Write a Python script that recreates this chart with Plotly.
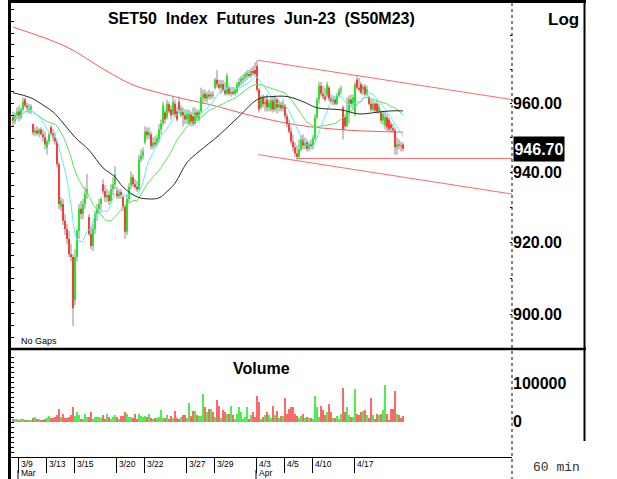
import math
import pandas as pd
import plotly.graph_objects as go

W, H = 617, 479

# ---------------- data (60-min bars, 3/8 .. 4/20) ----------------
opens = [955.8, 954.6, 956.4, 957.5, 955.8, 958.1, 961.0, 959.3, 958.1, 958.1,
         953.8, 951.4, 952.0, 951.1, 952.3, 950.8, 950.0,
         947.0, 948.8, 952.9, 951.1, 950.0, 948.8, 942.2,
         930.0, 930.9, 926.1, 923.8, 921.0, 916.7, 915.9,
         904.0, 915.9, 923.2, 929.5, 928.0, 930.9, 933.7,
         927.2, 922.4, 919.0, 923.8, 928.0, 929.5, 930.9,
         936.5, 934.5, 932.8, 933.4, 931.7, 935.1, 936.5,
         934.5, 933.1, 934.3, 932.8, 930.0, 923.0, 932.3,
         936.2, 938.5, 936.5, 935.7, 935.1, 943.6, 944.7,
         948.5, 951.7, 950.6, 950.8, 947.4, 948.5, 947.9,
         949.4, 952.3, 954.0, 957.2, 955.8, 959.6, 958.1,
         956.7, 959.8, 957.5, 960.4, 956.4, 957.5, 956.4,
         955.2, 954.0, 956.7, 956.1, 954.0, 957.2, 955.2,
         957.5, 961.6, 962.7, 961.3, 962.5, 961.9, 962.5,
         964.5, 966.8, 965.4, 964.5, 965.6, 963.9, 962.7,
         964.5, 962.7, 963.3, 962.7, 963.3, 965.1, 966.2,
         966.8, 967.4, 968.0, 968.5, 968.0, 969.4, 969.7,
         970.9, 963.9, 958.7, 961.6, 959.6, 961.0, 958.7,
         958.1, 960.7, 958.1, 961.0, 958.7, 959.8, 958.4,
         959.3, 956.1, 953.8, 951.7, 948.8, 947.1, 945.3,
         944.4, 946.5, 949.4, 947.6, 948.5, 946.7, 947.9,
         947.4, 949.7, 955.8, 961.0, 965.1, 962.7, 961.9,
         962.2, 964.5, 961.3, 960.4, 961.0, 959.8, 962.2,
         963.6, 958.7, 955.8, 953.2, 957.5, 961.0, 959.8,
         956.7, 966.8, 964.5, 965.6, 963.9, 964.8, 962.5,
         961.6, 959.8, 958.1, 959.8, 959.8, 957.5, 957.2,
         954.9, 953.5, 955.8, 955.2, 953.8, 952.6, 952.0,
         947.1, 947.9, 947.6, 947.9]

highs = [957.5, 957.2, 958.7, 959.3, 958.7, 961.6, 961.6, 960.1, 959.8, 959.6,
         954.0, 952.9, 953.2, 952.6, 952.9, 952.3, 951.7,
         949.4, 951.4, 953.5, 952.3, 951.4, 949.4, 942.8,
         932.8, 932.3, 928.0, 925.2, 923.2, 919.5, 916.7,
         918.1, 923.8, 930.9, 931.7, 932.3, 935.7, 939.4,
         928.0, 924.4, 925.2, 928.9, 930.9, 932.3, 932.8,
         937.9, 936.2, 935.1, 934.5, 936.5, 938.5, 941.6,
         935.7, 935.1, 935.1, 933.4, 930.6, 933.7, 936.8,
         940.2, 939.4, 937.9, 937.4, 945.0, 946.5, 947.1,
         953.2, 952.9, 952.9, 951.7, 950.0, 950.3, 950.8,
         953.8, 955.2, 960.4, 958.1, 961.0, 960.4, 959.3,
         961.9, 961.0, 958.7, 961.9, 959.3, 958.7, 958.1,
         958.1, 958.1, 957.5, 958.7, 958.7, 958.1, 958.1,
         964.5, 963.9, 963.9, 963.3, 963.9, 963.3, 963.6,
         967.4, 969.7, 966.8, 966.8, 966.8, 966.2, 968.8,
         965.1, 964.5, 964.5, 964.5, 966.2, 967.4, 968.0,
         968.5, 969.1, 969.7, 969.7, 970.3, 970.9, 972.0,
         972.6, 964.5, 962.2, 962.5, 961.9, 962.5, 961.0,
         961.6, 961.9, 962.2, 961.6, 961.0, 960.4, 961.0,
         959.8, 956.9, 955.2, 952.9, 950.8, 948.5, 947.6,
         949.4, 950.6, 950.8, 950.0, 949.4, 948.8, 949.4,
         950.6, 956.7, 961.6, 966.2, 966.2, 965.1, 964.5,
         966.2, 965.1, 962.5, 962.2, 961.9, 963.0, 964.5,
         965.1, 959.3, 956.7, 961.6, 962.2, 962.5, 962.5,
         966.2, 968.0, 967.4, 966.2, 965.4, 965.6, 965.1,
         962.2, 961.0, 961.0, 960.4, 960.7, 959.8, 958.1,
         957.5, 957.5, 956.7, 955.8, 954.6, 954.0, 952.9,
         950.0, 949.4, 948.8, 948.5]

lows = [953.2, 953.8, 955.2, 954.6, 955.2, 957.5, 958.7, 957.2, 956.9, 956.7,
        950.6, 950.3, 950.6, 950.0, 950.6, 948.8, 946.5,
        945.0, 947.9, 950.6, 948.8, 947.9, 941.3, 929.5,
        928.9, 924.9, 922.1, 919.5, 915.9, 914.7, 896.9,
        902.6, 914.7, 921.0, 926.6, 926.6, 929.5, 932.3,
        921.9, 918.1, 917.6, 922.4, 926.1, 928.0, 928.9,
        933.7, 931.4, 931.4, 930.6, 931.2, 933.4, 935.1,
        932.3, 932.3, 932.3, 928.9, 921.0, 922.1, 931.2,
        935.1, 935.7, 935.1, 934.3, 934.5, 942.8, 943.6,
        947.9, 949.4, 949.4, 946.5, 946.5, 947.1, 947.4,
        948.5, 950.8, 953.2, 954.0, 955.2, 956.9, 955.2,
        956.1, 955.8, 954.6, 956.7, 955.8, 953.2, 953.8,
        953.8, 953.5, 953.2, 953.2, 953.5, 954.6, 954.6,
        956.9, 959.8, 960.4, 960.1, 961.0, 961.0, 961.3,
        963.9, 964.5, 963.9, 962.7, 963.3, 962.2, 962.2,
        962.2, 961.9, 962.2, 962.2, 962.7, 964.5, 965.1,
        965.6, 966.2, 966.8, 967.4, 967.4, 968.0, 968.0,
        963.3, 957.2, 958.1, 958.7, 957.5, 957.5, 957.5,
        957.5, 957.2, 957.5, 956.9, 957.5, 957.5, 957.5,
        955.2, 952.9, 951.1, 947.9, 945.9, 944.4, 943.6,
        943.9, 945.9, 946.5, 946.5, 945.9, 945.9, 946.5,
        946.5, 949.1, 955.2, 959.8, 961.9, 961.0, 960.4,
        961.6, 960.4, 959.8, 959.3, 959.3, 959.3, 961.6,
        962.5, 949.4, 952.3, 952.9, 954.0, 958.7, 958.1,
        956.1, 963.9, 963.3, 962.5, 962.2, 962.2, 961.9,
        959.3, 957.5, 957.5, 957.2, 956.9, 956.9, 954.0,
        953.5, 952.3, 951.7, 951.7, 951.4, 951.4, 945.0,
        945.0, 946.5, 945.9, 945.9]

closes = [954.6, 956.4, 957.5, 955.8, 958.1, 960.4, 959.3, 958.7, 958.4, 959.0,
          951.4, 952.0, 951.1, 952.3, 950.8, 950.0, 947.9,
          948.8, 950.8, 951.1, 950.0, 948.8, 942.2, 930.9,
          931.7, 926.1, 923.8, 921.0, 916.7, 915.9, 901.7,
          915.9, 923.2, 929.5, 928.0, 930.9, 933.7, 935.1,
          922.4, 919.0, 923.8, 928.0, 929.5, 930.9, 932.3,
          934.5, 932.8, 933.4, 931.7, 935.1, 936.5, 939.4,
          933.1, 934.3, 933.4, 930.0, 923.0, 932.3, 935.7,
          938.5, 936.5, 935.7, 935.1, 943.6, 944.7, 945.9,
          951.7, 950.6, 951.4, 947.4, 948.5, 947.9, 949.7,
          952.3, 954.0, 959.3, 955.2, 959.8, 957.5, 956.4,
          960.4, 956.7, 955.2, 958.1, 958.4, 956.4, 955.2,
          956.9, 956.7, 954.6, 954.0, 957.2, 955.8, 957.5,
          961.6, 962.7, 961.3, 962.5, 961.9, 962.5, 962.2,
          966.8, 965.4, 964.5, 965.6, 963.9, 962.7, 968.0,
          962.7, 963.3, 962.7, 963.9, 965.4, 966.2, 967.1,
          967.4, 968.3, 968.8, 968.0, 969.4, 968.8, 968.5,
          963.9, 958.1, 961.6, 959.6, 960.4, 958.7, 960.1,
          960.7, 958.1, 961.0, 958.7, 959.8, 958.4, 959.8,
          956.1, 953.8, 951.7, 948.8, 947.1, 945.3, 944.4,
          946.5, 949.4, 947.6, 948.5, 946.7, 947.9, 947.4,
          949.7, 955.8, 961.0, 965.1, 962.7, 961.9, 961.0,
          965.4, 961.3, 960.4, 961.0, 959.8, 962.2, 963.6,
          964.2, 952.3, 953.2, 957.5, 961.0, 959.8, 961.6,
          965.4, 964.5, 963.9, 963.0, 964.8, 962.5, 963.9,
          959.8, 958.1, 959.8, 957.8, 957.5, 959.0, 954.9,
          956.7, 955.8, 952.9, 952.3, 952.6, 952.0, 947.1,
          947.9, 947.6, 947.4, 946.7]

volumes = [7000, 8000, 8000, 5000, 7000, 7000, 4500, 4500, 4500, 5000,
           9000, 11000, 6000, 6000, 3000, 5000, 7000,
           10000, 14000, 9000, 10000, 11000, 17000, 34000,
           11000, 20000, 10000, 10000, 13000, 17000, 38000,
           15000, 26000, 17000, 8000, 7000, 21000, 12000,
           13000, 24000, 8000, 11000, 12000, 12000, 10000,
           17000, 7000, 19000, 12000, 7000, 13000, 17000,
           12000, 8000, 14000, 15000, 26000, 19000, 13000,
           12000, 9000, 19000, 6000, 21000, 15000, 13000,
           14000, 11000, 19000, 9000, 6000, 10000, 9000,
           12000, 30000, 10000, 9000, 17000, 8000, 14000,
           10000, 27000, 9000, 7000, 11000, 17000, 17000,
           10000, 48000, 15000, 27000, 27000, 17000, 15000,
           15000, 71000, 38000, 24000, 34000, 34000, 24000,
           12000, 57000, 41000, 10000, 30000, 24000, 21000,
           19000, 41000, 17000, 8000, 20000, 38000, 24000,
           8000, 13000, 38000, 8000, 17000, 24000, 13000,
           66000, 50000, 8000, 13000, 17000, 25000, 17000,
           10000, 41000, 17000, 28000, 9000, 15000, 14000,
           60000, 21000, 34000, 38000, 38000, 21000, 15000,
           9000, 14000, 19000, 10000, 13000, 9000, 10000,
           7000, 67000, 38000, 12000, 41000, 30000, 17000,
           24000, 47000, 24000, 10000, 10000, 15000, 7000,
           21000, 86000, 25000, 38000, 17000, 13000, 13000,
           84000, 19000, 17000, 24000, 28000, 30000, 17000,
           10000, 62000, 17000, 8000, 19000, 17000, 19000,
           30000, 95000, 19000, 4000, 33000, 32000, 79000,
           19000, 17000, 10000, 14000]

# date axis: first bar of each labelled trading day
day_labels = ["3/9", "3/13", "3/15", "3/20", "3/22", "3/27", "3/29",
              "4/3", "4/5", "4/10", "4/17"]
day_start_bar = [3, 17, 31, 52, 66, 87, 101, 122, 136, 150, 171]
month_labels = ["Mar", "Apr"]
month_start_bar = [3, 122]

# long moving averages
black_ma_bar = [0, 9, 15, 20, 25, 31, 38, 45, 51, 55, 62, 68, 73, 77, 81, 87, 93,
                103, 113, 123, 130, 137, 145, 152, 164, 173, 182, 189, 195]
black_ma_val = [963.0, 961.5, 959.4, 957.4, 954.2, 950.0, 946.3, 941.2, 938.6,
                935.7, 932.9, 932.3, 932.6, 934.4, 936.8, 942.7, 945.9, 950.6,
                956.1, 961.3, 961.9, 961.9, 960.4, 958.6, 958.0, 956.8, 957.3,
                957.7, 957.7]
red_ma_bar = [0, 27, 46, 60, 71, 87, 98, 118, 142, 167, 195]
red_ma_val = [982.5, 976.5, 969.7, 965.3, 963.3, 961.0, 959.6, 956.5, 953.6,
              952.1, 951.5]

# drawn trend lines (bar, price)
upper_line_bar = [122.5, 249.5]
upper_line_val = [972.6, 961.0]
lower_line_bar = [122.5, 249.5]
lower_line_val = [945.0, 933.7]
support_bar = [141.5, 249.5]
support_val = [943.9, 943.9]

price_tickvals = [890, 900, 910, 920, 930, 940, 950, 960, 970, 980]
price_ticktext = ["", "900.00", "", "920.00", "", "940.00", "", "960.00", "", ""]
vol_tickvals = [0, 100000]
vol_ticktext = ["0", "100000"]

# ---------------- styling ----------------
SANS = "Liberation Sans, Arial, sans-serif"
C_UP, C_DN = "#22ea22", "#ff3a3a"
V_UP, V_DN = "#4cf04c", "#ff6868"
WICK = "#8c8c8c"


def px(xp):
    return xp / W


def py(yp):
    return 1 - yp / H


bars = list(range(len(closes)))
s = pd.Series(closes)
ma_fast = s.rolling(10, min_periods=1).mean()
ma_mid = s.rolling(25, min_periods=1).mean()

# wick segments and body segments (bodies drawn above wicks)
wx, wy = [], []
ux, uy, dx, dy = [], [], [], []
for i in bars:
    wx += [i, i, None]
    wy += [lows[i], highs[i], None]
    if closes[i] >= opens[i]:
        ux += [i, i, None]
        uy += [opens[i], closes[i], None]
    else:
        dx += [i, i, None]
        dy += [opens[i], closes[i], None]

vol_colors = [V_UP if c >= o else V_DN for o, c in zip(opens, closes)]

fig = go.Figure()
fig.add_trace(go.Scatter(x=red_ma_bar, y=red_ma_val, mode="lines",
                         line=dict(color="#ff5a5a", width=1, shape="spline"),
                         xaxis="x", yaxis="y"))
for bx, by in ((upper_line_bar, upper_line_val), (lower_line_bar, lower_line_val),
               (support_bar, support_val)):
    fig.add_trace(go.Scatter(x=bx, y=by, mode="lines",
                             line=dict(color="#ff6a6a", width=1), xaxis="x", yaxis="y"))
fig.add_trace(go.Scatter(x=wx, y=wy, mode="lines", line=dict(color=WICK, width=1),
                         connectgaps=False, xaxis="x", yaxis="y"))
fig.add_trace(go.Scatter(x=ux, y=uy, mode="lines", line=dict(color=C_UP, width=2),
                         connectgaps=False, xaxis="x", yaxis="y"))
fig.add_trace(go.Scatter(x=dx, y=dy, mode="lines", line=dict(color=C_DN, width=2),
                         connectgaps=False, xaxis="x", yaxis="y"))
fig.add_trace(go.Scatter(x=bars, y=ma_mid, mode="lines",
                         line=dict(color="#5ae85a", width=1), xaxis="x", yaxis="y"))
fig.add_trace(go.Scatter(x=bars, y=ma_fast, mode="lines",
                         line=dict(color="#5ef0f4", width=1), xaxis="x", yaxis="y"))
fig.add_trace(go.Scatter(x=black_ma_bar, y=black_ma_val, mode="lines",
                         line=dict(color="#2a2a2a", width=1, shape="spline"),
                         xaxis="x", yaxis="y"))
fig.add_trace(go.Bar(x=bars, y=volumes, marker=dict(color=vol_colors, line=dict(width=0)),
                     width=0.68, xaxis="x2", yaxis="y2"))
# invisible traces so that the tick-only axes render
fig.add_trace(go.Scatter(x=[0], y=[0], mode="markers", marker=dict(opacity=0),
                         xaxis="x", yaxis="y3"))
fig.add_trace(go.Scatter(x=[0], y=[0], mode="markers", marker=dict(opacity=0),
                         xaxis="x2", yaxis="y4"))

# 2 px per bar, bar centres on whole pixels
x_range = [-1.0, 249.5]
x_dom = [px(11), px(512)]
tickfont_big = dict(family=SANS, size=16, color="black", weight="bold")

fig.update_layout(
    width=W, height=H, margin=dict(l=0, r=0, t=0, b=0),
    paper_bgcolor="white", plot_bgcolor="white",
    showlegend=False, hovermode=False, bargap=0,
    xaxis=dict(domain=x_dom, range=x_range, anchor="y", showticklabels=False,
               showgrid=False, zeroline=False, showline=False, ticks="",
               fixedrange=True),
    yaxis=dict(domain=[py(349), py(4)], type="log",
               range=[math.log10(890.58), math.log10(989.44)],
               side="right", anchor="x", showgrid=False, zeroline=False,
               showline=False, tickmode="array", tickvals=price_tickvals,
               ticktext=price_ticktext, ticks="inside", ticklen=2,
               tickcolor="black", tickfont=tickfont_big, fixedrange=True),
    xaxis2=dict(domain=x_dom, range=x_range, anchor="y2", showticklabels=False,
                showgrid=False, zeroline=False, showline=True, linecolor="black",
                linewidth=1, tickmode="array",
                tickvals=[b - 0.5 for b in day_start_bar], ticks="outside",
                ticklen=15, tickwidth=1, tickcolor="black", fixedrange=True),
    yaxis2=dict(domain=[py(457), py(352)], range=[-91200, 180100], anchor="x2",
                side="right", showgrid=False, zeroline=False, showline=False,
                tickmode="array", tickvals=vol_tickvals, ticktext=vol_ticktext,
                ticks="", tickfont=tickfont_big, fixedrange=True),
    yaxis3=dict(overlaying="y", anchor="x", side="left", range=[0, 345],
                dtick=11.7, ticks="inside", ticklen=3, tickcolor="black",
                showticklabels=False, showgrid=False, zeroline=False,
                showline=False, fixedrange=True),
    yaxis4=dict(overlaying="y2", anchor="x2", side="left", range=[0, 105],
                dtick=5, ticks="inside", ticklen=3, tickcolor="black",
                showticklabels=False, showgrid=False, zeroline=False,
                showline=False, fixedrange=True),
)

shapes = [
    dict(type="line", xref="paper", yref="paper", x0=px(9.5), x1=px(9.5),
         y0=py(0), y1=py(479), line=dict(color="black", width=3)),
    dict(type="line", xref="paper", yref="paper", x0=px(8), x1=px(586),
         y0=py(1.5), y1=py(1.5), line=dict(color="black", width=3)),
    dict(type="line", xref="paper", yref="paper", x0=px(584.5), x1=px(584.5),
         y0=py(0), y1=py(441), line=dict(color="black", width=2)),
    dict(type="line", xref="paper", yref="paper", x0=px(8), x1=px(586),
         y0=py(349), y1=py(349), line=dict(color="black", width=2.5)),
    dict(type="line", xref="paper", yref="paper", x0=px(512), x1=px(512),
         y0=py(3), y1=py(479), line=dict(color="black", width=1, dash="dot")),
]
for b in month_start_bar:
    shapes.append(dict(type="line", xref="x2", yref="paper", x0=b - 0.5, x1=b - 0.5,
                       y0=py(470), y1=py(479), line=dict(color="black", width=1)))
fig.update_layout(shapes=shapes)

ann = [
    dict(text="<b>SET50\u00a0 Index\u00a0 Futures\u00a0 Jun-23\u00a0 (S50M23)</b>",
         x=px(261), y=py(18), xref="paper", yref="paper", showarrow=False,
         xanchor="center", yanchor="middle",
         font=dict(family=SANS, size=16, color="black")),
    dict(text="<b>Log</b>", x=px(581), y=py(19), xref="paper", yref="paper",
         showarrow=False, xanchor="right", yanchor="middle",
         font=dict(family=SANS, size=17, color="black")),
    dict(text="<b>Volume</b>", x=px(261), y=py(368), xref="paper", yref="paper",
         showarrow=False, xanchor="center", yanchor="middle",
         font=dict(family=SANS, size=16, color="black")),
    dict(text="No Gaps", x=px(19), y=py(341), xref="paper", yref="paper",
         showarrow=False, xanchor="left", yanchor="middle",
         font=dict(family=SANS, size=9, color="black")),
    dict(text="<b>%.2f</b>" % closes[-1], x=px(513), y=math.log10(closes[-1]),
         xref="paper", yref="y", showarrow=False, xanchor="left", yanchor="middle",
         bgcolor="black", borderpad=0, width=50, height=24, align="center",
         font=dict(family=SANS, size=16, color="white")),
    dict(text="60 min", x=px(556), y=py(467), xref="paper", yref="paper",
         showarrow=False, xanchor="center", yanchor="middle",
         font=dict(family="Liberation Mono, DejaVu Sans Mono, monospace", size=13,
                   color="#333333")),
]
for lab, b in zip(day_labels, day_start_bar):
    ann.append(dict(text=lab, x=b - 0.5, y=py(464), xref="x2", yref="paper",
                    showarrow=False, xanchor="left", yanchor="middle", xshift=1,
                    font=dict(family=SANS, size=8.5, color="black")))
for lab, b in zip(month_labels, month_start_bar):
    ann.append(dict(text=lab, x=b - 0.5, y=py(473), xref="x2", yref="paper",
                    showarrow=False, xanchor="left", yanchor="middle", xshift=1,
                    font=dict(family=SANS, size=8.5, color="black")))
fig.update_layout(annotations=ann)

fig.write_html("out.html", config={"displayModeBar": False},
               post_script="document.body.style.margin='0px';"
                           "document.body.style.padding='0px';"
                           "document.body.style.overflow='hidden';")
